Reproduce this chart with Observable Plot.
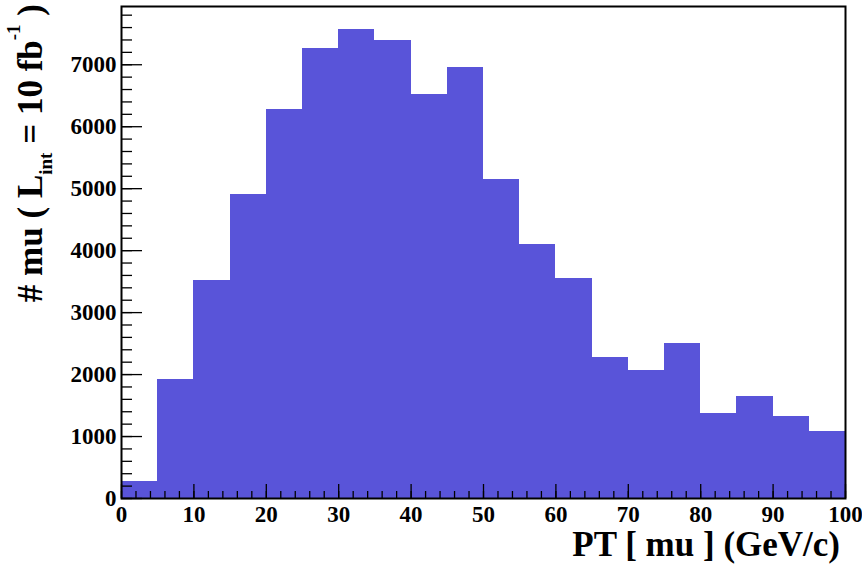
<!DOCTYPE html>
<html>
<head>
<meta charset="utf-8">
<script src="https://cdn.jsdelivr.net/npm/d3@7"></script>
<script src="https://cdn.jsdelivr.net/npm/@observablehq/plot@0.6"></script>
<style>
  html, body { margin: 0; padding: 0; background: #fff; }
  #chart svg { display: block; }
</style>
</head>
<body>
<div id="chart"></div>
<script>
// --- data ---
const binLow = [0, 5, 10, 15, 20, 25, 30, 35, 40, 45, 50, 55, 60, 65, 70, 75, 80, 85, 90, 95];
const binWidth = 5;
const counts = [274, 1927, 3518, 4904, 6274, 7260, 7563, 7397, 6521, 6962, 5143, 4103, 3546, 2277, 2063, 2503, 1375, 1649, 1322, 1080];
const xMajorTicks = [0, 10, 20, 30, 40, 50, 60, 70, 80, 90, 100];
const yMajorTicks = [0, 1000, 2000, 3000, 4000, 5000, 6000, 7000];
const xMinorTicks = d3.range(0, 100.01, 2);
const yMinorTicks = d3.range(0, 7801, 200);
const xTitle = "PT [ mu ] (GeV/c)";

const bins = binLow.map((lo, i) => ({x1: lo, x2: lo + binWidth, y: counts[i]}));

const W = 862, H = 565;
const mL = 121, mR = 17, mT = 6, mB = 67;
const plotW = W - mL - mR, plotH = H - mT - mB;
const font = '"Liberation Serif", "Times New Roman", serif';

const chart = Plot.plot({
  width: W,
  height: H,
  marginLeft: mL,
  marginRight: mR,
  marginTop: mT,
  marginBottom: mB,
  style: {background: "#fff", fontFamily: font, color: "#000"},
  x: {domain: [0, 100], axis: null},
  y: {domain: [0, 7940], axis: null},
  marks: [
    Plot.rectY(bins, {x1: "x1", x2: "x2", y: "y", fill: "#5954d9", inset: 0, shapeRendering: "crispEdges"}),
    // inward ticks (ROOT style)
    Plot.tickY(yMinorTicks, {y: d => d, stroke: "#000", strokeWidth: 1.3, insetRight: plotW - 11}),
    Plot.tickY(yMajorTicks, {y: d => d, stroke: "#000", strokeWidth: 1.3, insetRight: plotW - 21}),
    Plot.tickX(xMinorTicks, {x: d => d, stroke: "#000", strokeWidth: 1.3, insetTop: plotH - 7}),
    Plot.tickX(xMajorTicks, {x: d => d, stroke: "#000", strokeWidth: 1.3, insetTop: plotH - 14}),
    Plot.frame({stroke: "#000", strokeWidth: 2}),
    // tick labels
    Plot.text(yMajorTicks, {y: d => d, text: d => String(d), frameAnchor: "left", textAnchor: "end", dx: -5,
      fontSize: 23, fontWeight: "bold", fontFamily: font, fill: "#000"}),
    Plot.text(xMajorTicks, {x: d => d, text: d => String(d), frameAnchor: "bottom", lineAnchor: "top", dy: 7,
      fontSize: 23, fontWeight: "bold", fontFamily: font, fill: "#000"})
  ]
});

const svg = d3.select(chart);

// x-axis title
svg.append("text")
  .attr("x", 840).attr("y", 556)
  .attr("text-anchor", "end")
  .style("font-family", font).style("font-weight", "bold").style("font-size", "35px")
  .attr("fill", "#000")
  .text(xTitle);

// y-axis title with subscript/superscript
const yt = svg.append("text")
  .attr("transform", "translate(42,4) rotate(-90)")
  .attr("text-anchor", "end")
  .style("font-family", font).style("font-weight", "bold").style("font-size", "35px")
  .attr("fill", "#000");
yt.append("tspan").text("# mu ( L");
yt.append("tspan").style("font-size", "19px").attr("dy", 10).text("int");
yt.append("tspan").attr("dy", -10).text(" = 10 fb");
yt.append("tspan").style("font-size", "19px").attr("dy", -22).text("-1");
yt.append("tspan").attr("dy", 22).text(" )");

document.getElementById("chart").appendChild(chart);
</script>
</body>
</html>
